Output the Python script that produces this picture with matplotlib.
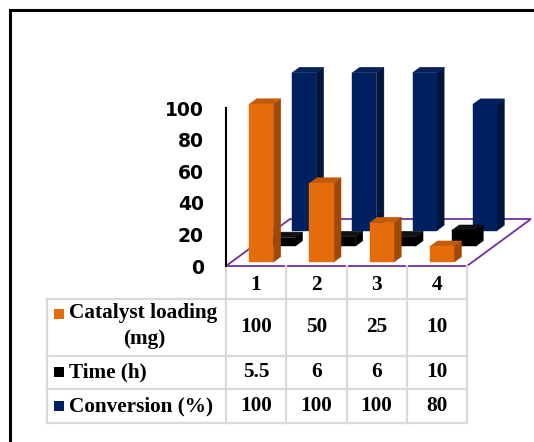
import numpy as np
import matplotlib
matplotlib.use("Agg")
import matplotlib.pyplot as plt
from matplotlib.patches import Polygon
from matplotlib import transforms as mtransforms

categories = ["1", "2", "3", "4"]
catalyst_loading = [100, 50, 25, 10]
time_h = [5.5, 6, 6, 10]
conversion = [100, 100, 100, 80]
catalyst_labels = ["100", "50", "25", "10"]
time_labels = ["5.5", "6", "6", "10"]
conversion_labels = ["100", "100", "100", "80"]

ORANGE = ("#E46C0A", "#9E4A06", "#C25A08")   # front, side, top
BLACK = ("#000000", "#000000", "#111111")
NAVY = ("#002060", "#00143C", "#06205A")

W, H = 534, 442
fig = plt.figure(figsize=(W / 100, H / 100), dpi=100)

# plot area in pixels: front floor edge from x=226 to 467 at y=266, top of value axis at y=108
x0, x1, y0, y1 = 226, 467, 266, 108
ax = fig.add_axes([x0 / W, 1 - y0 / H, (x1 - x0) / W, (y0 - y1) / H])
ax.set_xlim(0, 4)
ax.set_ylim(0, 100)

px_x = (x1 - x0) / 4.0      # pixels per category
px_y = (y0 - y1) / 100.0    # pixels per value unit
# oblique depth vector (full floor depth), in data units
DX = 64 / px_x
DY = 47 / px_y

BAR_W = 0.4
BAR_D = 0.117


def proj(x, y, d):
    return (x + d * DX, y + d * DY)


def bar3d(ax, xc, h, d, colors):
    front, side, top = colors
    xl, xr = xc - BAR_W / 2, xc + BAR_W / 2
    d2 = d + BAR_D
    f = [proj(xl, 0, d), proj(xr, 0, d), proj(xr, h, d), proj(xl, h, d)]
    s = [proj(xr, 0, d), proj(xr, 0, d2), proj(xr, h, d2), proj(xr, h, d)]
    t = [proj(xl, h, d), proj(xr, h, d), proj(xr, h, d2), proj(xl, h, d2)]
    for pts, c in ((s, side), (t, top), (f, front)):
        ax.add_patch(Polygon(pts, closed=True, facecolor=c, edgecolor=c,
                             lw=0.3, clip_on=False))


# floor
floor = [proj(0, 0, 0), proj(4, 0, 0), proj(4, 0, 1), proj(0, 0, 1)]
ax.add_patch(Polygon(floor, closed=True, facecolor="white", edgecolor="#7030A0",
                     lw=1.3, clip_on=False, zorder=0.5))

xs = np.arange(len(categories)) + 0.5
# back row to front row
for xc, v in zip(xs, conversion):
    bar3d(ax, xc, v, 0.75, NAVY)
for xc, v in zip(xs, time_h):
    bar3d(ax, xc, v, 0.42, BLACK)
for xc, v in zip(xs, catalyst_loading):
    bar3d(ax, xc, v, 0.08, ORANGE)

for s in ["top", "right", "bottom"]:
    ax.spines[s].set_visible(False)
ax.spines["left"].set_linewidth(1.5)
ax.spines["left"].set_color("black")
ax.set_xticks([])
ax.set_yticks([0, 20, 40, 60, 80, 100])
ax.tick_params(axis="y", length=0, pad=16)
for lab in ax.get_yticklabels():
    lab.set_fontfamily("DejaVu Sans")
    lab.set_fontweight("bold")
    lab.set_fontsize(13.5)
ax.patch.set_alpha(0)

# data table underneath, columns aligned with the categories
tr = mtransforms.blended_transform_factory(ax.transData, fig.transFigure)
GRID = "#D9D9D9"
lbl_left = (47 - x0) / px_x


def fy(py):
    return 1 - py / H


rows_y = [299, 356, 389, 423]
for py in rows_y:
    ax.plot([lbl_left, 4], [fy(py), fy(py)], color=GRID, lw=1.6,
            transform=tr, clip_on=False)
for xv in range(5):
    ax.plot([xv, xv], [fy(266), fy(423)], color=GRID, lw=1.6,
            transform=tr, clip_on=False)
ax.plot([lbl_left, lbl_left], [fy(299), fy(423)], color=GRID, lw=1.6,
        transform=tr, clip_on=False)

serif = dict(family="Liberation Serif", weight="bold", fontsize=15.3,
             transform=tr, clip_on=False, va="center")
for xc, c in zip(xs, categories):
    ax.text(xc, fy(285), c, ha="center", **serif)
for yy, labels in ((327, catalyst_labels), (372, time_labels), (406, conversion_labels)):
    for xc, t in zip(xs, labels):
        ax.text(xc, fy(yy), t, ha="center", **serif)

txt_x = (69 - x0) / px_x
ax.text(txt_x, fy(313), "Catalyst loading", ha="left", **serif)
ax.text((144 - x0) / px_x, fy(339), "(mg)", ha="center", **serif)
ax.text(txt_x, fy(372), "Time (h)", ha="left", **serif)
ax.text(txt_x, fy(406), "Conversion (%)", ha="left", **serif)

# legend keys in the row headers
sq_x = (54 - x0) / px_x
sq_w = 10.5 / px_x
for yy, c in ((314, ORANGE[0]), (372, BLACK[0]), (406, NAVY[0])):
    ax.add_patch(plt.Rectangle((sq_x, fy(yy + 5.25)), sq_w, 10.5 / H,
                               facecolor=c, edgecolor="none",
                               transform=tr, clip_on=False))

# outer frame (left and top edges)
fig.add_artist(plt.Line2D([10 / W, 10 / W], [0, fy(10)], color="black", lw=2.2))
fig.add_artist(plt.Line2D([10 / W, 1], [fy(10), fy(10)], color="black", lw=2.2))

fig.savefig("out.png", dpi=100)
